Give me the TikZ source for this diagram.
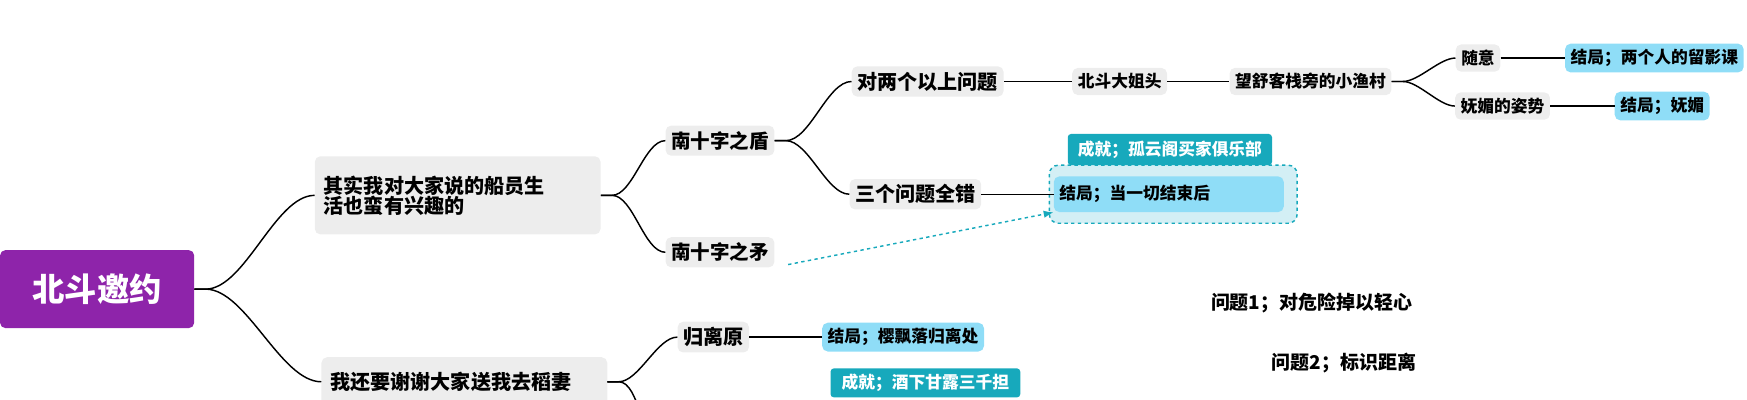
\documentclass[tikz,border=0pt]{standalone}
\usepackage{fontspec}
\setmainfont{Noto Sans CJK SC}
\usetikzlibrary{arrows.meta, positioning}
\definecolor{topicgray}{HTML}{EDEDED}
\definecolor{rootpurple}{HTML}{8E24AA}
\definecolor{endblue}{HTML}{8FDDF7}
\definecolor{tealtab}{HTML}{17A9BC}
\definecolor{boxteal}{HTML}{D3EFF5}
\newcommand{\branch}[2]{\draw[link] (#1.east) -- ++(10,0) to[out=0,in=180,looseness=0.7] (#2.west);}

\begin{document}
\begin{tikzpicture}[x=1pt, y=1pt, >=Latex,
    topic/.style = {fill=topicgray, rounded corners=5pt, inner sep=5pt, font=\bfseries\fontsize{#1}{#1}\selectfont},
    ending/.style = {fill=endblue, rounded corners=5pt, inner sep=5pt, font=\bfseries\fontsize{15}{15}\selectfont},
    tab/.style = {fill=tealtab, text=white, rounded corners=3pt, inner sep=5pt, font=\bfseries\fontsize{15}{15}\selectfont},
    link/.style = {line width=1.3pt}
  ]
  \useasboundingbox (0,0) rectangle (1565,-358);

  % root and first level
  \node[fill=rootpurple, text=white, rounded corners=5pt, minimum width=174, minimum height=70,
        font=\bfseries\fontsize{29}{29}\selectfont] (root) at (87,-259) {北斗邀约};
  \node[topic=18, minimum width=256, minimum height=70, align=left, text width=240] (crew) at (410,-175)
    {其实我对大家说的船员生\\活也蛮有兴趣的};
  \node[topic=18, minimum width=256, minimum height=44, align=left, text width=240] (inazuma) at (416,-342)
    {我还要谢谢大家送我去稻妻};

  % upper branch
  \node[topic=17.5] (shield) at (645,-126) {南十字之盾};
  \node[topic=17.5] (spear) at (645,-226) {南十字之矛};
  \node[topic=18] (twoq) at (831,-73) {对两个以上问题};
  \node[topic=18] (allwrong) at (820,-174) {三个问题全错};
  \node[topic=15] (boss) at (1003,-73) {北斗大姐头};
  \node[topic=15] (village) at (1174,-73) {望舒客栈旁的小渔村};
  \node[topic=15] (casual) at (1324,-52) {随意};
  \node[topic=15] (charm) at (1346,-95) {妩媚的姿势};
  \node[ending] (photo) at (1482,-52) {结局；两个人的留影课};
  \node[ending] (charmend) at (1489,-95) {结局；妩媚};

  % callout
  \draw[tealtab, fill=boxteal, dashed, line width=1.3pt, rounded corners=8pt] (940,-148) rectangle (1162,-200);
  \node[tab, minimum width=183, minimum height=28] (lonely) at (1048,-134) {成就；孤云阁买家俱乐部};
  \node[ending, minimum width=206, minimum height=32, text width=196, align=left] (afterall) at (1047,-174) {结局；当一切结束后};

  % lower branch
  \node[topic=18] (guili) at (639,-302) {归离原};
  \node[ending] (sakura) at (809,-302) {结局；樱飘落归离处};
  \node[tab, minimum width=170, minimum height=26] (wine) at (829,-343) {成就；酒下甘露三千担};

  % notes
  \node[font=\bfseries\fontsize{17}{17}\selectfont] (q1) at (1175,-271) {问题1；对危险掉以轻心};
  \node[font=\bfseries\fontsize{17}{17}\selectfont] (q2) at (1204,-325) {问题2；标识距离};

  % connectors
  \branch{root}{crew}
  \branch{root}{inazuma}
  \branch{crew}{shield}
  \branch{crew}{spear}
  \branch{shield}{twoq}
  \branch{shield}{allwrong}
  \draw[link] (twoq) -- (boss);
  \draw[link] (boss) -- (village);
  \branch{village}{casual}
  \branch{village}{charm}
  \draw[link] (casual) -- (photo);
  \draw[link] (charm) -- (charmend);
  \draw[link] (allwrong.east) -- (afterall.west);
  \branch{inazuma}{guili}
  \draw[link] (inazuma.east) -- ++(10,0) to[out=0,in=180,looseness=0.7] (594,-400);
  \draw[link] (guili) -- (sakura);
  \draw[tealtab, dashed, line width=1.3pt, ->] (706,-237) -- (afterall.south west);
\end{tikzpicture}
\end{document}
